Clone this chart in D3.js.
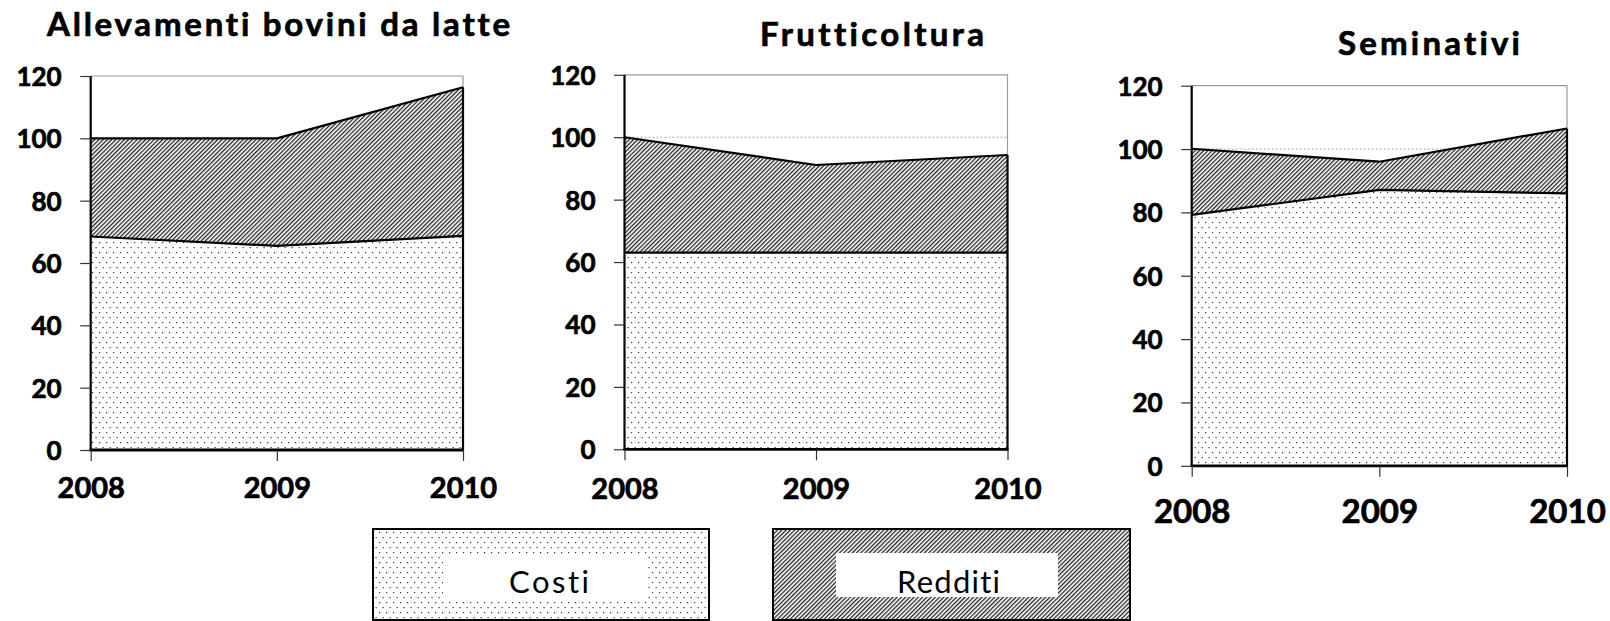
<!DOCTYPE html>
<html><head><meta charset="utf-8">
<script src="https://cdn.jsdelivr.net/npm/d3@7"></script>
<style>body{margin:0;background:#fff} svg{display:block} text{font-variant-ligatures:none;font-feature-settings:"liga" 0,"clig" 0}</style>
</head><body>
<svg id="c" width="1610" height="621"></svg>
<script>
// ---- data ----
const years = [2008, 2009, 2010];
const titles = ["Allevamenti bovini da latte", "Frutticoltura", "Seminativi"];
const seriesNames = ["Costi", "Redditi"];
const costiLatte = [68.5, 65.5, 68.7];
const redditiLatte = [31.5, 34.5, 47.7];
const costiFrutta = [63.0, 63.0, 63.0];
const redditiFrutta = [37.0, 28.1, 31.3];
const costiSeminativi = [79.2, 87.1, 86.0];
const redditiSeminativi = [20.9, 8.9, 20.5];
const yTicks = [0, 20, 40, 60, 80, 100, 120];
const referenceValue = 100;

const costiAll = [costiLatte, costiFrutta, costiSeminativi];
const redditiAll = [redditiLatte, redditiFrutta, redditiSeminativi];

// ---- layout (not data) ----
const panels = [
  {left: 90.7, right: 463, top: 76, bottom: 450, titleX: 47, titleW: 463, titleY: 36, xFont: 29, xBase: 48},
  {left: 624.5, right: 1007.5, top: 74.8, bottom: 449.3, titleX: 760, titleW: 224, titleY: 45.7, xFont: 29, xBase: 50},
  {left: 1191.7, right: 1567, top: 85.7, bottom: 465.8, titleX: 1338, titleW: 182, titleY: 55, xFont: 33, xBase: 57.5}
];
const FONT = "Lato, 'Open Sans', sans-serif";
const HEAVY = 0.7; // extra stroke to imitate a heavier bold face

const svg = d3.select("#c");
const defs = svg.append("defs");
// dotted pattern (Costi)
const pd = defs.append("pattern").attr("id", "dots").attr("patternUnits", "userSpaceOnUse")
  .attr("width", 7).attr("height", 10);
pd.append("rect").attr("width", 7).attr("height", 10).attr("fill", "#fff");
pd.append("rect").attr("x", 1).attr("y", 2).attr("width", 1.2).attr("height", 1.2).attr("fill", "#333");
pd.append("rect").attr("x", 4.5).attr("y", 7).attr("width", 1.2).attr("height", 1.2).attr("fill", "#333");
// hatch pattern (Redditi)
const ph = defs.append("pattern").attr("id", "hatch").attr("patternUnits", "userSpaceOnUse")
  .attr("width", 3).attr("height", 3).attr("patternTransform", "rotate(45)");
ph.append("rect").attr("width", 3).attr("height", 3).attr("fill", "#fff");
ph.append("rect").attr("width", 1.3).attr("height", 3).attr("fill", "#222");

const fills = ["url(#dots)", "url(#hatch)"];

function heavy(sel) {
  return sel.attr("stroke", "#000").attr("stroke-width", HEAVY).attr("stroke-linejoin", "round");
}

panels.forEach((p, i) => {
  const rows = years.map((yr, j) => ({year: yr, Costi: costiAll[i][j], Redditi: redditiAll[i][j]}));
  const x = d3.scaleLinear().domain([years[0], years[years.length - 1]]).range([p.left, p.right]);
  const y = d3.scaleLinear().domain([0, 120]).range([p.bottom, p.top]);
  const stacked = d3.stack().keys(seriesNames)(rows);
  const g = svg.append("g");

  // plot frame (grey top & right)
  g.append("path")
    .attr("d", `M${x.range()[0]},${y(120)}H${x.range()[1]}V${y(0)}`)
    .attr("fill", "none").attr("stroke", "#9a9a9a").attr("stroke-width", 1.2);
  // reference line at 100
  g.append("line")
    .attr("x1", x.range()[0]).attr("x2", x.range()[1])
    .attr("y1", y(referenceValue)).attr("y2", y(referenceValue))
    .attr("stroke", "#aaa").attr("stroke-width", 1).attr("stroke-dasharray", "2,2");

  const area = d3.area().x(d => x(d.data.year)).y0(d => y(d[0])).y1(d => y(d[1]));
  g.selectAll("path.area").data(stacked).join("path").attr("class", "area")
    .attr("d", area).attr("fill", (d, k) => fills[k]);
  const line = d3.line().x(d => x(d.data.year)).y(d => y(d[1]));
  g.selectAll("path.top").data(stacked).join("path").attr("class", "top")
    .attr("d", line).attr("fill", "none").attr("stroke", "#000").attr("stroke-width", 2.2)
    .attr("stroke-linejoin", "round");
  // right edge of the stacked area
  const last = stacked[stacked.length - 1][years.length - 1];
  g.append("line")
    .attr("x1", x(last.data.year)).attr("x2", x(last.data.year))
    .attr("y1", y(0)).attr("y2", y(last[1]))
    .attr("stroke", "#000").attr("stroke-width", 2.2);

  // y axis
  const ya = g.append("g").attr("transform", `translate(${p.left},0)`)
    .call(d3.axisLeft(y).tickValues(yTicks).tickSize(10.5).tickPadding(18.5));
  ya.select(".domain").attr("stroke", "#000").attr("stroke-width", 2.2)
    .attr("d", `M0,${p.bottom}V${p.top}`);
  ya.selectAll(".tick line").attr("stroke", "#333").attr("stroke-width", 1.2);
  heavy(ya.selectAll(".tick text").attr("fill", "#000").attr("font-family", FONT)
    .attr("font-weight", 700).attr("font-size", 26).attr("dy", "0.36em"));

  // x axis
  const xa = g.append("g").attr("transform", `translate(0,${p.bottom})`)
    .call(d3.axisBottom(x).tickValues(years).tickFormat(d3.format("d")).tickSize(11));
  xa.select(".domain").attr("stroke", "#000").attr("stroke-width", 2.8)
    .attr("d", `M${p.left - 1},0H${p.right + 1}`);
  xa.selectAll(".tick line").attr("stroke", "#333").attr("stroke-width", 1.2);
  heavy(xa.selectAll(".tick text").attr("fill", "#000").attr("font-family", FONT)
    .attr("font-weight", 700).attr("font-size", p.xFont).attr("y", p.xBase).attr("dy", null));

  // title: fit the font size to the title width
  const t = g.append("text").attr("x", p.titleX).attr("y", p.titleY)
    .attr("font-family", FONT).attr("font-weight", 700).attr("font-size", 30)
    .text(titles[i]);
  const w = t.node().getComputedTextLength();
  const fs = Math.min(33, 30 * p.titleW / w);
  heavy(t.attr("font-size", fs).attr("textLength", p.titleW).attr("lengthAdjust", "spacing"));
});

// ---- legend ----
const legendBoxes = [
  {x: 373, y: 529, w: 336, h: 91, ix: 443, iy: 555, iw: 205, ih: 46, tx: 549, tw: 80},
  {x: 773, y: 529, w: 357, h: 91, ix: 836, iy: 553, iw: 222, ih: 44, tx: 948.5, tw: 103}
];
seriesNames.forEach((name, k) => {
  const b = legendBoxes[k];
  const lg = svg.append("g");
  lg.append("rect").attr("x", b.x).attr("y", b.y).attr("width", b.w).attr("height", b.h)
    .attr("fill", fills[k]).attr("stroke", "#000").attr("stroke-width", 2);
  lg.append("rect").attr("x", b.ix).attr("y", b.iy).attr("width", b.iw).attr("height", b.ih)
    .attr("fill", "#fff");
  lg.append("text").attr("x", b.tx - b.tw / 2).attr("y", 593)
    .attr("font-family", FONT).attr("font-weight", 400).attr("font-size", 31)
    .attr("textLength", b.tw).attr("lengthAdjust", "spacing")
    .text(name);
});
</script>
</body></html>
